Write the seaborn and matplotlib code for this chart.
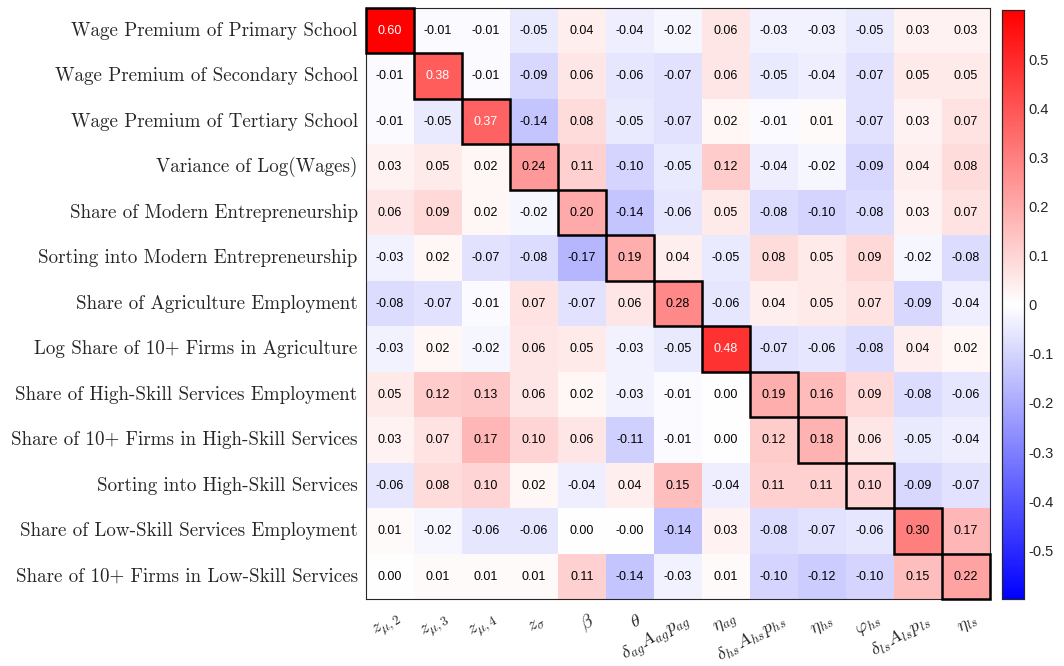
import numpy as np
import pandas as pd
import matplotlib
matplotlib.use("Agg")
import matplotlib.pyplot as plt
import matplotlib.transforms as mtransforms
from matplotlib.patches import Rectangle
import seaborn as sns

moments = [
    "Wage Premium of Primary School",
    "Wage Premium of Secondary School",
    "Wage Premium of Tertiary School",
    "Variance of Log(Wages)",
    "Share of Modern Entrepreneurship",
    "Sorting into Modern Entrepreneurship",
    "Share of Agriculture Employment",
    "Log Share of 10+ Firms in Agriculture",
    "Share of High-Skill Services Employment",
    "Share of 10+ Firms in High-Skill Services",
    "Sorting into High-Skill Services",
    "Share of Low-Skill Services Employment",
    "Share of 10+ Firms in Low-Skill Services",
]

parameters = [
    r"$z_{\mu,2}$", r"$z_{\mu,3}$", r"$z_{\mu,4}$", r"$z_{\sigma}$",
    r"$\beta$", r"$\theta$", r"$\delta_{ag}A_{ag}p_{ag}$", r"$\eta_{ag}$",
    r"$\delta_{hs}A_{hs}p_{hs}$", r"$\eta_{hs}$", r"$\varphi_{hs}$",
    r"$\delta_{ls}A_{ls}p_{ls}$", r"$\eta_{ls}$",
]

row_01 = [0.60, -0.01, -0.01, -0.05, 0.04, -0.04, -0.02, 0.06, -0.03, -0.03, -0.05, 0.03, 0.03]
row_02 = [-0.01, 0.38, -0.01, -0.09, 0.06, -0.06, -0.07, 0.06, -0.05, -0.04, -0.07, 0.05, 0.05]
row_03 = [-0.01, -0.05, 0.37, -0.14, 0.08, -0.05, -0.07, 0.02, -0.01, 0.01, -0.07, 0.03, 0.07]
row_04 = [0.03, 0.05, 0.02, 0.24, 0.11, -0.10, -0.05, 0.12, -0.04, -0.02, -0.09, 0.04, 0.08]
row_05 = [0.06, 0.09, 0.02, -0.02, 0.20, -0.14, -0.06, 0.05, -0.08, -0.10, -0.08, 0.03, 0.07]
row_06 = [-0.03, 0.02, -0.07, -0.08, -0.17, 0.19, 0.04, -0.05, 0.08, 0.05, 0.09, -0.02, -0.08]
row_07 = [-0.08, -0.07, -0.01, 0.07, -0.07, 0.06, 0.28, -0.06, 0.04, 0.05, 0.07, -0.09, -0.04]
row_08 = [-0.03, 0.02, -0.02, 0.06, 0.05, -0.03, -0.05, 0.48, -0.07, -0.06, -0.08, 0.04, 0.02]
row_09 = [0.05, 0.12, 0.13, 0.06, 0.02, -0.03, -0.01, 0.00, 0.19, 0.16, 0.09, -0.08, -0.06]
row_10 = [0.03, 0.07, 0.17, 0.10, 0.06, -0.11, -0.01, 0.00, 0.12, 0.18, 0.06, -0.05, -0.04]
row_11 = [-0.06, 0.08, 0.10, 0.02, -0.04, 0.04, 0.15, -0.04, 0.11, 0.11, 0.10, -0.09, -0.07]
row_12 = [0.01, -0.02, -0.06, -0.06, 0.00, -0.001, -0.14, 0.03, -0.08, -0.07, -0.06, 0.30, 0.17]
row_13 = [0.00, 0.01, 0.01, 0.01, 0.11, -0.14, -0.03, 0.01, -0.10, -0.12, -0.10, 0.15, 0.22]

rows = [row_01, row_02, row_03, row_04, row_05, row_06, row_07,
        row_08, row_09, row_10, row_11, row_12, row_13]

cbar_ticks = [-0.5, -0.4, -0.3, -0.2, -0.1, 0.0, 0.1, 0.2, 0.3, 0.4, 0.5]
cbar_labels = ["-0.5", "-0.4", "-0.3", "-0.2", "-0.1", "0", "0.1", "0.2", "0.3", "0.4", "0.5"]

df = pd.DataFrame(rows, index=moments, columns=parameters)

sns.set_theme(style="white")
plt.rcParams["font.family"] = ["Liberation Sans", "DejaVu Sans"]
plt.rcParams["mathtext.fontset"] = "cm"

fig = plt.figure(figsize=(10.64, 6.66), dpi=100)
ax = fig.add_axes([0.344, 0.100, 0.586, 0.888])
cax = fig.add_axes([0.9417, 0.100, 0.0207, 0.885])

sns.heatmap(df, ax=ax, cbar_ax=cax, cmap="bwr", vmin=-0.6, vmax=0.6,
            annot=True, fmt=".2f", annot_kws={"size": 9},
            cbar_kws={"ticks": cbar_ticks})

# white labels on the strongly coloured cells
vals = df.values.ravel()
for txt, v in zip(ax.texts, vals):
    txt.set_color("white" if abs(v) > 0.35 else "black")

# outline the diagonal
n = len(moments)
for i in range(n):
    ax.add_patch(Rectangle((i, i), 1, 1, fill=False, edgecolor="black",
                           linewidth=1.8, clip_on=False, zorder=5))

for s in ax.spines.values():
    s.set_visible(True)
    s.set_color("#262626")
    s.set_linewidth(0.8)

ax.tick_params(axis="both", direction="in", length=5, width=0.6,
               color="#262626", top=True, right=True, bottom=True, left=True,
               labeltop=False, labelright=False)
ax.tick_params(axis="y", pad=6)
ax.set_yticklabels(moments, rotation=0, fontfamily="cmr10", fontsize=13.7,
                   color="#262626")
ax.set_xticklabels(parameters, rotation=30, fontsize=13.5,
                   ha="right", va="center", rotation_mode="anchor",
                   color="#262626")
shift = mtransforms.ScaledTranslation(0.11, -0.15, fig.dpi_scale_trans)
for lbl in ax.get_xticklabels():
    lbl.set_transform(lbl.get_transform() + shift)
ax.set_xlabel("")
ax.set_ylabel("")

cax.set_yticklabels(cbar_labels, fontsize=10.5, color="#262626")
cax.tick_params(direction="in", length=4, width=0.6, color="#262626")
for s in cax.spines.values():
    s.set_visible(True)
    s.set_color("#262626")
    s.set_linewidth(0.8)

fig.savefig("out.png", dpi=100)
